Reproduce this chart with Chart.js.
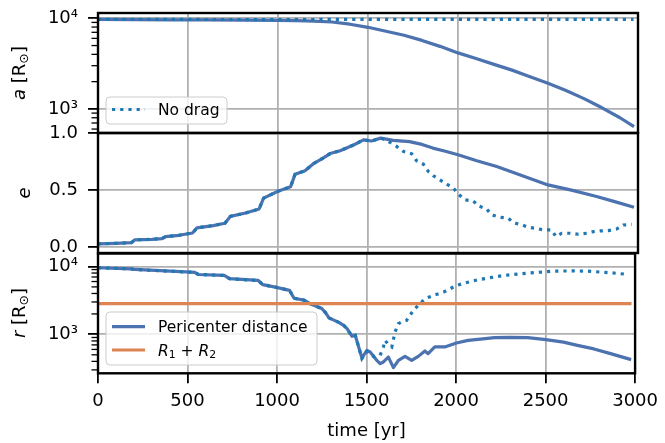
<!DOCTYPE html>
<html><head><meta charset="utf-8">
<script src="https://cdn.jsdelivr.net/npm/chart.js@4/dist/chart.umd.min.js"></script>
<style>
html,body{margin:0;padding:0;background:#fff;}
#wrap{position:relative;width:665px;height:443px;background:#fff;}
canvas{position:absolute;left:0;top:0;}
</style></head><body>
<div id="wrap">
<canvas id="c1" width="665" height="443"></canvas>
<canvas id="c2" width="665" height="443"></canvas>
<canvas id="c3" width="665" height="443"></canvas>
</div>
<script>
// ---------------- data ----------------
const tTicks = [0, 500, 1000, 1500, 2000, 2500, 3000];
const aTicks = [600, 700, 800, 900, 1000, 2000, 3000, 4000, 5000, 6000, 7000, 8000, 9000, 10000];
const eTicks = [0, 0.5, 1.0];
const rTicks = [300, 400, 500, 600, 700, 800, 900, 1000, 2000, 3000, 4000, 5000, 6000, 7000, 8000, 9000, 10000];
const majorLog = [1000, 10000];

// semi-major axis, with drag
const tADrag = [0, 200, 400, 600, 800, 1000, 1100, 1200, 1300, 1400, 1500, 1600, 1700, 1800, 1900, 2000, 2100, 2200, 2300, 2400, 2500, 2600, 2700, 2800, 2900, 2978];
const aDrag = [9700, 9650, 9620, 9580, 9550, 9500, 9420, 9300, 9100, 8600, 7950, 7200, 6500, 5700, 4900, 4150, 3600, 3100, 2680, 2270, 1920, 1600, 1300, 1030, 800, 640];
// semi-major axis, no drag
const tANo = [0, 500, 1000, 1500, 2000, 2500, 2975];
const aNo = [9700, 9700, 9680, 9720, 9730, 9730, 9730];

// eccentricity, with drag
const tEDrag = [0, 100, 185, 205, 300, 355, 375, 450, 525, 550, 640, 705, 735, 820, 895, 920, 1000, 1070, 1095, 1150, 1200, 1250, 1290, 1345, 1420, 1475, 1520, 1570, 1640, 1730, 1800, 1860, 1930, 2000, 2100, 2215, 2350, 2500, 2630, 2770, 2880, 2978];
const eDrag = [0.03, 0.035, 0.04, 0.065, 0.07, 0.075, 0.093, 0.105, 0.125, 0.17, 0.19, 0.21, 0.27, 0.3, 0.335, 0.43, 0.49, 0.53, 0.64, 0.67, 0.735, 0.78, 0.82, 0.845, 0.895, 0.94, 0.93, 0.955, 0.935, 0.925, 0.9, 0.868, 0.84, 0.81, 0.76, 0.707, 0.63, 0.546, 0.5, 0.444, 0.395, 0.35];
// eccentricity, no drag
const tENo = [0, 100, 185, 205, 300, 355, 375, 450, 525, 550, 640, 705, 735, 820, 895, 920, 1000, 1070, 1095, 1150, 1200, 1250, 1290, 1345, 1420, 1475, 1520, 1570, 1610, 1659, 1696, 1743, 1770, 1807, 1835, 1863, 1937, 1974, 2002, 2039, 2085, 2113, 2159, 2187, 2233, 2280, 2307, 2354, 2391, 2428, 2474, 2520, 2544, 2576, 2622, 2669, 2715, 2752, 2789, 2835, 2881, 2918, 2965];
const eNo = [0.03, 0.035, 0.04, 0.065, 0.07, 0.075, 0.093, 0.105, 0.125, 0.17, 0.19, 0.21, 0.27, 0.3, 0.335, 0.43, 0.49, 0.53, 0.64, 0.67, 0.735, 0.78, 0.82, 0.845, 0.895, 0.94, 0.93, 0.955, 0.93, 0.883, 0.839, 0.818, 0.757, 0.728, 0.663, 0.626, 0.553, 0.518, 0.465, 0.415, 0.406, 0.362, 0.336, 0.283, 0.263, 0.254, 0.216, 0.196, 0.175, 0.167, 0.152, 0.152, 0.094, 0.123, 0.123, 0.114, 0.123, 0.137, 0.143, 0.146, 0.16, 0.195, 0.2];

// pericenter distance, with drag
const tRDrag = [0, 185, 205, 490, 540, 560, 705, 735, 895, 920, 990, 1070, 1095, 1150, 1185, 1250, 1270, 1290, 1345, 1372, 1391, 1419, 1437, 1456, 1474, 1502, 1520, 1557, 1576, 1594, 1622, 1650, 1678, 1715, 1752, 1789, 1826, 1844, 1881, 1937, 2002, 2067, 2150, 2215, 2300, 2400, 2502, 2600, 2678, 2770, 2863, 2978];
const rDrag = [9570, 9200, 9030, 8300, 8200, 7620, 7380, 6600, 6220, 5400, 4960, 4440, 3400, 3200, 2830, 2400, 2100, 1750, 1500, 1356, 1212, 935, 967, 652, 450, 582, 550, 415, 370, 392, 463, 324, 415, 474, 415, 474, 569, 520, 652, 652, 746, 816, 860, 894, 900, 894, 836, 770, 689, 610, 520, 425];
// pericenter distance, no drag
const tRNo = [0, 185, 205, 490, 540, 560, 705, 735, 895, 920, 990, 1070, 1095, 1150, 1185, 1250, 1270, 1290, 1345, 1372, 1391, 1419, 1437, 1456, 1474, 1502, 1540, 1576, 1594, 1604, 1622, 1641, 1659, 1678, 1700, 1724, 1741, 1770, 1826, 1880, 1930, 2002, 2060, 2122, 2200, 2270, 2400, 2548, 2650, 2733, 2863, 2965];
const rNo = [9570, 9200, 9030, 8300, 8200, 7620, 7380, 6600, 6220, 5400, 4960, 4440, 3400, 3200, 2830, 2400, 2100, 1750, 1500, 1356, 1212, 935, 967, 652, 440, 560, 470, 491, 652, 816, 700, 652, 1081, 1436, 1550, 1606, 1900, 2390, 3350, 3800, 4190, 5250, 5800, 6370, 6900, 7380, 7980, 8540, 8600, 8540, 8070, 7620];
// R1 + R2
const tSum = [0, 2980];
const rSum = [2830, 2830];

// ---------------- styling ----------------
const W = 665, H = 443, L = 98, R = 638;
const FAM = "'DejaVu Sans', sans-serif";
const C_SOLID = '#4c72b0', C_DOT = '#1f77b4', C_OR = '#dd8452';
const tickFont = { family: FAM, size: 18 };
const GRID = '#b0b0b0';

function pts(ts, vs) { return ts.map((t, i) => ({ x: t, y: vs[i] })); }
function solid(d) { return { data: d, borderColor: C_SOLID, borderWidth: 3.2, pointRadius: 0, borderJoinStyle: 'round', order: 2 }; }
function dotted(d) { return { data: d, borderColor: C_DOT, borderWidth: 3.2, borderDash: [3.2, 5], borderCapStyle: 'butt', pointRadius: 0, order: 1 }; }

function drawRich(ctx, parts, x0, baseY, size) {
  let x = x0;
  parts.forEach(p => {
    const sz = p.sub ? size * 0.7 : size;
    ctx.font = (p.it ? 'italic ' : '') + sz + 'px ' + FAM;
    ctx.fillText(p.t, x, baseY + (p.sub ? size * 0.18 : 0));
    x += ctx.measureText(p.t).width;
  });
}
function richWidth(ctx, parts, size) {
  let w = 0;
  parts.forEach(p => {
    const sz = p.sub ? size * 0.7 : size;
    ctx.font = (p.it ? 'italic ' : '') + sz + 'px ' + FAM;
    w += ctx.measureText(p.t).width;
  });
  return w;
}
function roundRect(ctx, x, y, w, h, r) {
  ctx.beginPath();
  ctx.moveTo(x + r, y); ctx.lineTo(x + w - r, y); ctx.quadraticCurveTo(x + w, y, x + w, y + r);
  ctx.lineTo(x + w, y + h - r); ctx.quadraticCurveTo(x + w, y + h, x + w - r, y + h);
  ctx.lineTo(x + r, y + h); ctx.quadraticCurveTo(x, y + h, x, y + h - r);
  ctx.lineTo(x, y + r); ctx.quadraticCurveTo(x, y, x + r, y); ctx.closePath();
}

function framePlugin(cfg) {
  return {
    id: 'frame_' + cfg.id,
    afterDatasetsDraw(chart) {
      const ctx = chart.ctx, a = chart.chartArea, ys = chart.scales.y;
      ctx.save();
      if (cfg.minor) {
        ctx.strokeStyle = '#000'; ctx.lineWidth = 1.3;
        cfg.minor.forEach(v => {
          const y = ys.getPixelForValue(v);
          ctx.beginPath(); ctx.moveTo(a.left - 6.5, y); ctx.lineTo(a.left, y); ctx.stroke();
        });
      }
      ctx.strokeStyle = '#000'; ctx.lineWidth = 2.4;
      ctx.strokeRect(a.left, a.top, a.right - a.left, a.bottom - a.top);
      ctx.restore();
    },
    afterDraw(chart) {
      const ctx = chart.ctx;
      ctx.save();
      ctx.translate(cfg.ylab.x, cfg.ylab.y);
      ctx.rotate(-Math.PI / 2);
      ctx.fillStyle = '#000'; ctx.textBaseline = 'alphabetic'; ctx.textAlign = 'left';
      const w = richWidth(ctx, cfg.ylab.parts, 18);
      drawRich(ctx, cfg.ylab.parts, -w / 2, 0, 18);
      ctx.restore();
      if (cfg.legend) {
        const lg = cfg.legend;
        ctx.save();
        roundRect(ctx, lg.x, lg.y, lg.w, lg.h, 4);
        ctx.fillStyle = 'rgba(255,255,255,0.8)'; ctx.fill();
        ctx.strokeStyle = '#cccccc'; ctx.lineWidth = 1; ctx.stroke();
        lg.items.forEach(it => {
          ctx.beginPath();
          ctx.strokeStyle = it.color; ctx.lineWidth = 3.2;
          ctx.setLineDash(it.dash || []); ctx.lineCap = 'butt';
          ctx.moveTo(112, it.y); ctx.lineTo(145, it.y); ctx.stroke();
          ctx.setLineDash([]);
          ctx.fillStyle = '#000'; ctx.textBaseline = 'alphabetic'; ctx.textAlign = 'left';
          drawRich(ctx, it.parts, 158, it.y + 5.5, 15.5);
        });
        ctx.restore();
      }
    }
  };
}

function makeChart(cfg) {
  const bottomAxis = !!cfg.bottomAxis;
  const isLog = cfg.ylog;
  const yScale = {
    type: isLog ? 'logarithmic' : 'linear',
    min: cfg.ymin, max: cfg.ymax, bounds: 'data',
    afterBuildTicks: s => { s.ticks = cfg.yticks.map(v => ({ value: v })); },
    afterFit: s => { s.width = L; s.paddingTop = 0; s.paddingBottom = 0; },
    border: { display: false },
    grid: {
      color: ctx => (!isLog || majorLog.includes(ctx.tick.value)) ? GRID : 'rgba(0,0,0,0)',
      lineWidth: 1.8,
      drawTicks: true, tickLength: 10, tickWidth: 1.8,
      tickColor: ctx => (!isLog || majorLog.includes(ctx.tick.value)) ? '#000' : 'rgba(0,0,0,0)'
    },
    ticks: {
      font: tickFont, color: '#000', padding: 10, autoSkip: false,
      callback: v => isLog ? (v === 1000 ? '10\u00B3' : (v === 10000 ? '10\u2074' : '')) : Number(v).toFixed(1)
    }
  };
  return new Chart(document.getElementById(cfg.id), {
    type: 'line',
    data: { datasets: cfg.datasets },
    options: {
      responsive: false, animation: false,
      layout: { padding: { top: cfg.top, left: 0, right: W - R, bottom: 0 } },
      plugins: { legend: { display: false }, tooltip: { enabled: false } },
      scales: {
        x: {
          type: 'linear', min: 0, max: 3000, bounds: 'data',
          afterBuildTicks: s => { s.ticks = tTicks.map(v => ({ value: v })); },
          afterFit: s => { s.height = H - cfg.bottom; },
          border: { display: false },
          grid: { color: GRID, lineWidth: 1.8, drawTicks: bottomAxis, tickLength: 10, tickWidth: 1.8, tickColor: '#000' },
          ticks: { display: bottomAxis, font: tickFont, color: '#000', padding: 7, maxRotation: 0, autoSkip: false, callback: v => String(v) },
          title: { display: bottomAxis, text: 'time [yr]', font: tickFont, color: '#000', padding: { top: 0, bottom: 1 } }
        },
        y: yScale
      }
    },
    plugins: [framePlugin(cfg)]
  });
}

makeChart({
  id: 'c1', top: 13, bottom: 133, ylog: true, ymin: 543, ymax: 11430, yticks: aTicks,
  minor: aTicks.filter(v => !majorLog.includes(v)),
  datasets: [dotted(pts(tANo, aNo)), solid(pts(tADrag, aDrag))],
  ylab: { x: 25, y: 73, parts: [{ t: 'a', it: true }, { t: ' [R' }, { t: '\u2299', sub: true }, { t: ']' }] },
  legend: { x: 106, y: 97, w: 121, h: 27, items: [{ y: 109.5, color: C_DOT, dash: [3.2, 5], parts: [{ t: 'No drag' }] }] }
});
makeChart({
  id: 'c2', top: 133, bottom: 253, ylog: false, ymin: -0.05, ymax: 1.0, yticks: eTicks,
  datasets: [dotted(pts(tENo, eNo)), solid(pts(tEDrag, eDrag))],
  ylab: { x: 30, y: 193, parts: [{ t: 'e', it: true }] }
});
const orange = { data: pts(tSum, rSum), borderColor: C_OR, borderWidth: 3.2, pointRadius: 0, order: 0 };
makeChart({
  id: 'c3', top: 253.5, bottom: 373.3, bottomAxis: true, ylog: true, ymin: 267, ymax: 15520, yticks: rTicks,
  minor: rTicks.filter(v => !majorLog.includes(v)),
  datasets: [orange, dotted(pts(tRNo, rNo)), solid(pts(tRDrag, rDrag))],
  ylab: { x: 25, y: 313, parts: [{ t: 'r', it: true }, { t: ' [R' }, { t: '\u2299', sub: true }, { t: ']' }] },
  legend: { x: 106, y: 312, w: 211, h: 53, items: [
    { y: 326.7, color: C_SOLID, parts: [{ t: 'Pericenter distance' }] },
    { y: 350, color: C_OR, parts: [{ t: 'R', it: true }, { t: '1', sub: true }, { t: ' + ' }, { t: 'R', it: true }, { t: '2', sub: true }] }
  ] }
});
</script>
</body></html>
